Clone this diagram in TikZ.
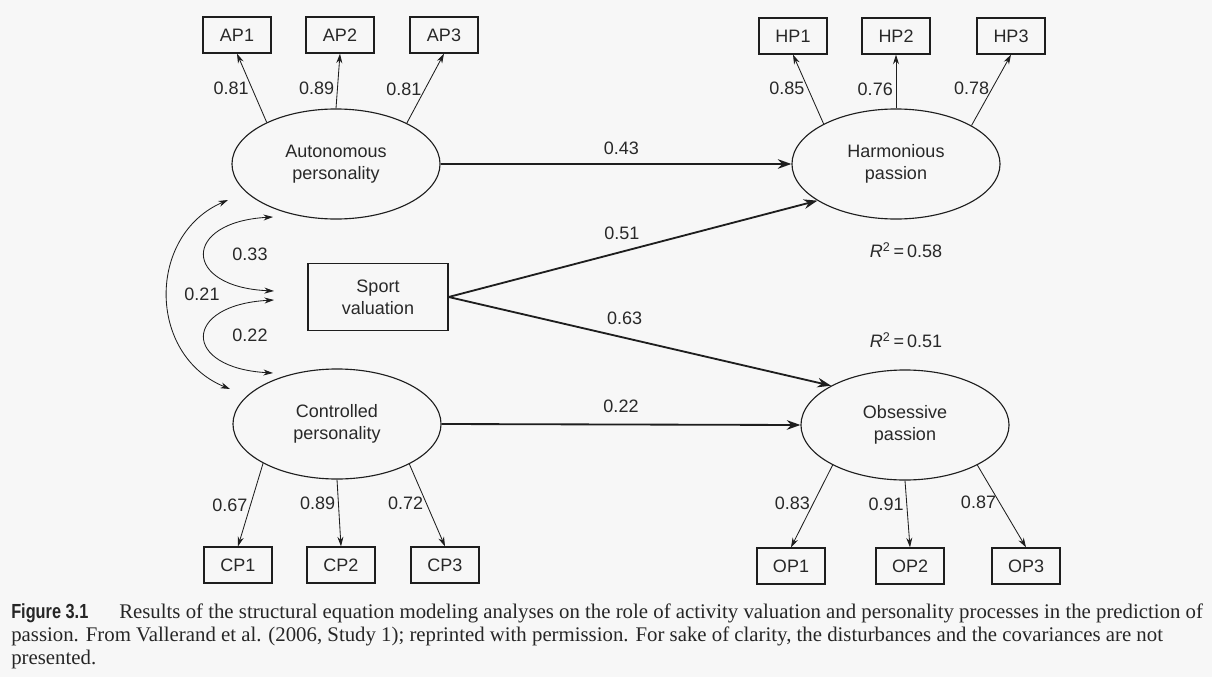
\documentclass[tikz,border=0pt]{standalone}
\usepackage{fontspec}
\setmainfont{Liberation Serif}
\setsansfont{Liberation Sans}
\newfontfamily\capfont[FakeStretch=0.8]{Liberation Sans}
\usetikzlibrary{shapes.geometric,arrows.meta,positioning,calc}
\definecolor{cInk}{RGB}{30,30,30}
\definecolor{cText}{RGB}{40,40,40}
\definecolor{cPaper}{RGB}{247,247,247}
\newcommand{\dfont}{\sffamily\fontsize{12.8}{15.5}\selectfont}
\tikzset{
    latent/.style={ellipse, draw=cInk, line width=0.8pt, minimum width=5.2cm,
        minimum height=2.75cm, inner sep=0pt, align=center,
        font=\dfont, text=cText},
    ind/.style={rectangle, draw=cInk, line width=0.9pt, minimum width=1.7cm,
        minimum height=0.9cm, inner sep=2pt, font=\dfont, text=cText},
    mbox/.style={ind, minimum width=3.5cm, minimum height=1.68cm,
        align=center},
    arr/.style={-{Stealth[length=3.4mm,width=2.4mm]}, line width=1.3pt, cInk},
    iarr/.style={-{Stealth[length=2.4mm,width=1.5mm]}, line width=0.6pt, cInk},
    cov/.style={{Stealth[length=2.4mm,width=1.5mm]}-{Stealth[length=2.4mm,width=1.5mm]},
        line width=0.6pt, cInk},
    lbl/.style={font=\dfont, text=cText, inner sep=2pt},
}

\begin{document}
\begin{tikzpicture}[x=0.025cm, y=-0.025cm]

% page
\fill[cPaper] (0,0) rectangle (1212,677);
\useasboundingbox (0,0) rectangle (1212,677);

% ================================================================
%  LATENT VARIABLES
% ================================================================
\node[latent] (autp) at (336,164) {Autonomous\\personality};
\node[latent] (conp) at (337,424) {Controlled\\personality};
\node[latent] (harp) at (896,164) {Harmonious\\passion};
\node[latent] (obsp) at (905,425) {Obsessive\\passion};

% Observed predictor
\node[mbox] (sval) at (378,297) {Sport\\valuation};

% ================================================================
%  INDICATORS
% ================================================================
\node[ind] (ap1) at (237,35) {AP1};
\node[ind] (ap2) at (340,35) {AP2};
\node[ind] (ap3) at (444,35) {AP3};

\node[ind] (hp1) at (793,36) {HP1};
\node[ind] (hp2) at (896,36) {HP2};
\node[ind] (hp3) at (1011,36) {HP3};

\node[ind] (cp1) at (238,565) {CP1};
\node[ind] (cp2) at (341,565) {CP2};
\node[ind] (cp3) at (445,565) {CP3};

\node[ind] (op1) at (791,566) {OP1};
\node[ind] (op2) at (910,566) {OP2};
\node[ind] (op3) at (1026,566) {OP3};

% Loadings
\draw[iarr] (autp.149) -- node[lbl, left] {0.81} (ap1.south);
\draw[iarr] (autp.north) -- node[lbl, left, pos=0.36] {0.89} (ap2.south);
\draw[iarr] (autp.30) -- node[lbl, left, pos=0.48] {0.81} (ap3.south);

\draw[iarr] (harp.151) -- node[lbl, left, pos=0.52] {0.85} (hp1.south);
\draw[iarr] (harp.north) -- node[lbl, left, pos=0.36] {0.76} (hp2.south);
\draw[iarr] (harp.27) -- node[lbl, left, pos=0.53] {0.78} (hp3.south);

\draw[iarr] (conp.208) -- node[lbl, left] {0.67} (cp1.north);
\draw[iarr] (conp.south) -- node[lbl, left, pos=0.36] {0.89} (cp2.north);
\draw[iarr] (conp.331) -- node[lbl, left, pos=0.48] {0.72} (cp3.north);

\draw[iarr] (obsp.209) -- node[lbl, left, pos=0.47] {0.83} (op1.north);
\draw[iarr] (obsp.south) -- node[lbl, left, pos=0.36] {0.91} (op2.north);
\draw[iarr] (obsp.331) -- node[lbl, left, pos=0.45] {0.87} (op3.north);

% ================================================================
%  STRUCTURAL PATHS
% ================================================================
\draw[arr] (autp.east) -- node[lbl, above, pos=0.515, yshift=4pt] {0.43} (harp.west);
\draw[arr] (sval.east) -- node[lbl, above, pos=0.47, yshift=6pt] {0.51} (harp.205);
\draw[arr] (sval.east) -- node[lbl, above, pos=0.46, yshift=7pt] {0.63} (obsp.152);
\draw[arr] (conp.east) -- node[lbl, above, pos=0.5, yshift=6pt] {0.22} (obsp.west);

\node[lbl] (r2h) at (906,250) {{\itshape R}\textsuperscript{2}\,=\,0.58};
\node[lbl] (r2o) at (906,340) {{\itshape R}\textsuperscript{2}\,=\,0.51};

% ================================================================
%  CORRELATIONS
% ================================================================
\coordinate (cvA) at (228,200);
\coordinate (cvB) at (230,389);
\coordinate (cvC) at (273,217);
\coordinate (cvD) at (274,291);
\coordinate (cvE) at (274,300);
\coordinate (cvF) at (273,373);

\draw[cov] (cvA) .. controls (147,235) and (147,355) .. (cvB);
\draw[cov] (cvC) .. controls (182,222) and (182,287) .. (cvD);
\draw[cov] (cvE) .. controls (182,305) and (182,368) .. (cvF);

\node[lbl] (r21) at (202,294) {0.21};
\node[lbl] (r33) at (250,254) {0.33};
\node[lbl] (r22) at (250,335) {0.22};

% ================================================================
%  CAPTION
% ================================================================
\node[anchor=north west, align=left, inner sep=0pt, text=black!85,
      font=\rmfamily\fontsize{14.8}{16.6}\selectfont] (cap) at (11,603)
    {{\capfont\bfseries\fontsize{14.5}{16.6}\selectfont Figure 3.1}\hspace{22pt}Results of the structural equation modeling analyses on the role of activity valuation and personality processes in the prediction of\\
     passion. From Vallerand et al. (2006, Study 1); reprinted with permission. For sake of clarity, the disturbances and the covariances are not\\
     presented.};

\end{tikzpicture}
\end{document}
